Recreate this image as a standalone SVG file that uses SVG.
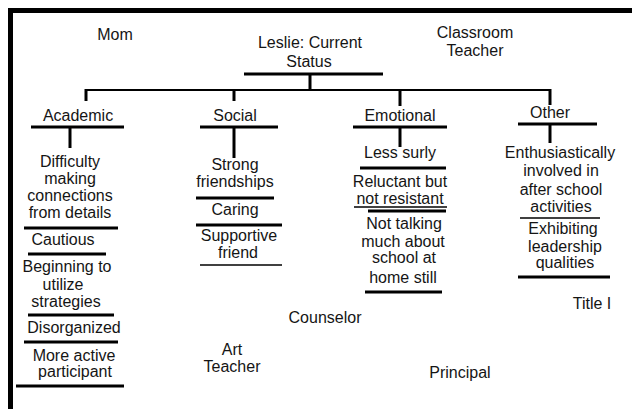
<svg xmlns="http://www.w3.org/2000/svg" width="632" height="409" viewBox="0 0 632 409">
  <style>
    text { font-family: "Liberation Sans", Arial, sans-serif; font-size: 16px; fill: #151515; text-anchor: middle; }
    .rule { stroke: #000; stroke-width: 3; fill: none; }
    .thin { stroke: #000; stroke-width: 1.5; fill: none; }
    .frame { fill: #000; }
  </style>
  <rect width="632" height="409" fill="#fff"/>

  <!-- page frame: heavy top and left edges -->
  <g id="frame">
    <rect class="frame" x="8" y="8" width="624" height="5"/>
    <rect class="frame" x="8" y="8" width="5" height="401"/>
  </g>

  <!-- tree connectors -->
  <g id="connectors" class="rule">
    <line x1="244" y1="74" x2="383" y2="74"/>
    <line x1="310" y1="74" x2="310" y2="90"/>
    <line x1="85" y1="90" x2="551" y2="90" stroke-width="2"/>
    <line x1="86" y1="89" x2="86" y2="101"/>
    <line x1="234" y1="89" x2="234" y2="101"/>
    <line x1="400" y1="89" x2="400" y2="106"/>
    <line x1="550" y1="89" x2="550" y2="105"/>
    <line x1="70" y1="127" x2="70" y2="148"/>
    <line x1="234" y1="127" x2="234" y2="158"/>
    <line x1="400" y1="127" x2="400" y2="147"/>
    <line x1="550" y1="124" x2="550" y2="143"/>
  </g>

  <g id="root">
    <text x="310" y="48">Leslie: Current</text>
    <text x="309" y="67">Status</text>
  </g>

  <g id="academic">
    <text x="78" y="121">Academic</text>
    <line class="rule" x1="31" y1="127" x2="124" y2="127"/>
    <text x="70" y="167">Difficulty</text>
    <text x="70" y="184">making</text>
    <text x="70" y="201">connections</text>
    <text x="70" y="218">from details</text>
    <line class="rule" x1="24" y1="228" x2="118" y2="228"/>
    <text x="63" y="245">Cautious</text>
    <line class="rule" x1="28" y1="254" x2="106" y2="254"/>
    <text x="67" y="272">Beginning to</text>
    <text x="63" y="290">utilize</text>
    <text x="66" y="307">strategies</text>
    <line class="rule" x1="28" y1="315" x2="114" y2="315"/>
    <text x="74" y="333">Disorganized</text>
    <line class="rule" x1="24" y1="342" x2="118" y2="342"/>
    <text x="74" y="361">More active</text>
    <text x="75" y="377">participant</text>
    <line class="rule" x1="16" y1="386" x2="124" y2="386"/>
  </g>

  <g id="social">
    <text x="235" y="121">Social</text>
    <line class="rule" x1="200" y1="127" x2="278" y2="127"/>
    <text x="235" y="170">Strong</text>
    <text x="235" y="187">friendships</text>
    <line class="rule" x1="196" y1="198" x2="274" y2="198"/>
    <text x="235" y="215">Caring</text>
    <line class="rule" x1="196" y1="225" x2="282" y2="225"/>
    <text x="239" y="241">Supportive</text>
    <text x="238" y="258">friend</text>
    <line class="thin" x1="200" y1="265" x2="282" y2="265"/>
  </g>

  <g id="emotional">
    <text x="400" y="121">Emotional</text>
    <line class="rule" x1="353" y1="127" x2="447" y2="127"/>
    <text x="400" y="158">Less surly</text>
    <line class="rule" x1="360" y1="168" x2="446" y2="168"/>
    <text x="400" y="187">Reluctant but</text>
    <text x="400" y="204">not resistant</text>
    <line class="thin" x1="354" y1="207" x2="447" y2="207" stroke-width="1"/>
    <line class="rule" x1="368" y1="211" x2="446" y2="211"/>
    <text x="404" y="229">Not talking</text>
    <text x="403" y="247">much about</text>
    <text x="404" y="263">school at</text>
    <text x="403" y="283">home still</text>
    <line class="rule" x1="365" y1="292" x2="442" y2="292"/>
  </g>

  <g id="other">
    <text x="550" y="118">Other</text>
    <line class="rule" x1="518" y1="124" x2="597" y2="124"/>
    <text x="560" y="158">Enthusiastically</text>
    <text x="561" y="176">involved in</text>
    <text x="561" y="195">after school</text>
    <text x="561" y="212">activities</text>
    <line class="thin" x1="520" y1="218" x2="600" y2="218"/>
    <text x="563" y="234">Exhibiting</text>
    <text x="565" y="252">leadership</text>
    <text x="565" y="268">qualities</text>
    <line class="rule" x1="518" y1="277" x2="610" y2="277"/>
  </g>

  <g id="mom"><text x="115" y="40">Mom</text></g>
  <g id="classroom-teacher">
    <text x="475" y="38">Classroom</text>
    <text x="475" y="56">Teacher</text>
  </g>
  <g id="counselor"><text x="325" y="323">Counselor</text></g>
  <g id="art-teacher">
    <text x="232" y="355">Art</text>
    <text x="232" y="372">Teacher</text>
  </g>
  <g id="principal"><text x="460" y="378">Principal</text></g>
  <g id="title-one"><text x="592" y="309">Title I</text></g>
</svg>
